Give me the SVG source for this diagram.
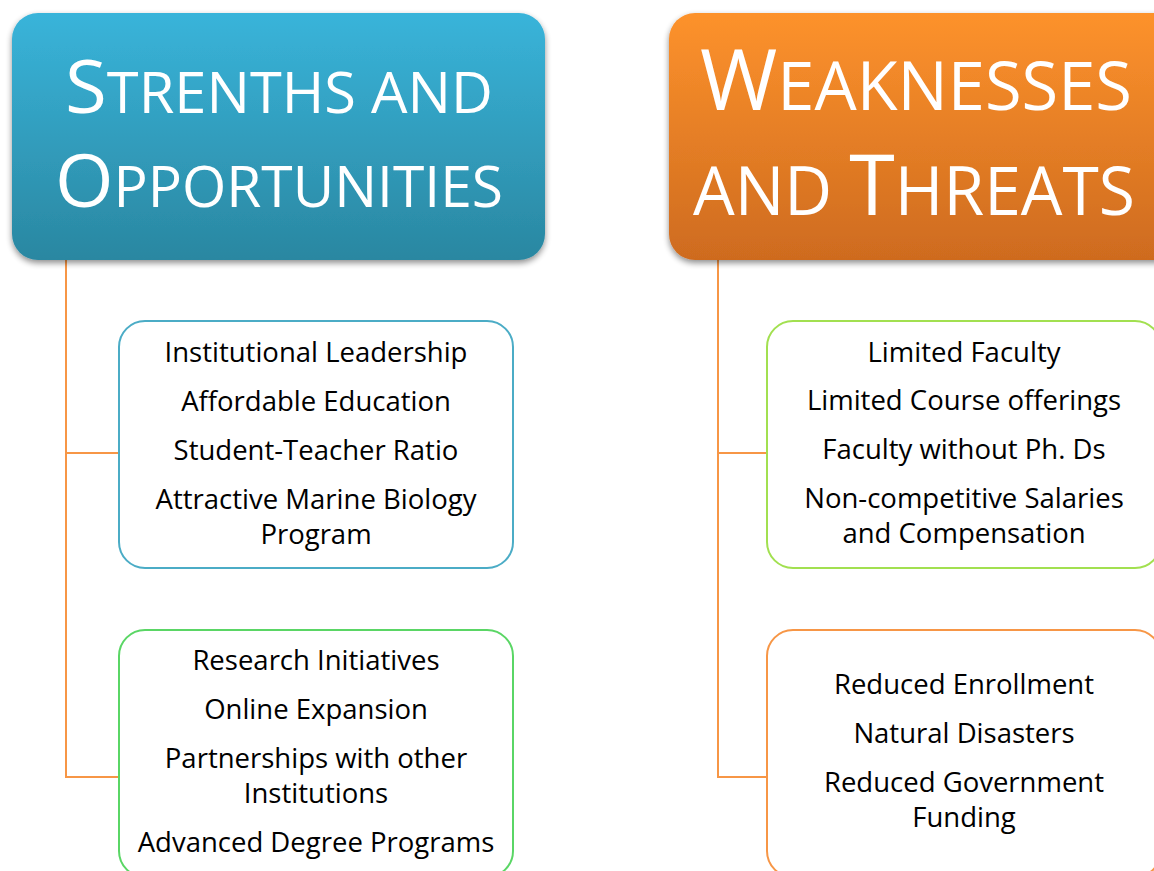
<svg xmlns="http://www.w3.org/2000/svg" width="1154" height="871" viewBox="0 0 1154 871">
<style>
.hdr{font-family:"Open Sans","Liberation Sans",sans-serif;fill:#fff;text-anchor:middle}
.body{font-family:"Open Sans","Liberation Sans",sans-serif;font-size:27.5px;fill:#000;text-anchor:middle}
.box{fill:#fff;stroke-width:2}
.conn{fill:none;stroke:#f79646;stroke-width:2}
</style>
<defs>
<linearGradient id="gBlue" x1="0" y1="0" x2="0" y2="1">
<stop offset="0" stop-color="#39b4da"/><stop offset="1" stop-color="#2a87a1"/>
</linearGradient>
<linearGradient id="gOrange" x1="0" y1="0" x2="0" y2="1">
<stop offset="0" stop-color="#fd922c"/><stop offset="1" stop-color="#ce6b1f"/>
</linearGradient>
<filter id="sh" x="-10%" y="-10%" width="120%" height="130%">
<feGaussianBlur in="SourceAlpha" stdDeviation="3"/>
<feOffset dx="0" dy="3" result="b"/>
<feComponentTransfer><feFuncA type="linear" slope="0.45"/></feComponentTransfer>
<feMerge><feMergeNode/><feMergeNode in="SourceGraphic"/></feMerge>
</filter>
</defs>
<rect width="1154" height="871" fill="#fff"/>
<g id="connectors">
<path class="conn" d="M66 260 V777 H119 M66 453 H119"/>
<path class="conn" d="M718 260 V777 H767 M718 453 H767"/>
</g>
<g id="strengths-header">
<rect x="12" y="13" width="533" height="247" rx="26" fill="url(#gBlue)" filter="url(#sh)"/>
<text class="hdr" x="279" y="113" textLength="428" lengthAdjust="spacingAndGlyphs"><tspan font-size="74">S</tspan><tspan font-size="56">TRENTHS AND</tspan></text>
<text class="hdr" x="279" y="207" textLength="448" lengthAdjust="spacingAndGlyphs"><tspan font-size="74">O</tspan><tspan font-size="56">PPORTUNITIES</tspan></text>
</g>
<g id="weaknesses-header">
<rect x="669" y="13" width="520" height="247" rx="26" fill="url(#gOrange)" filter="url(#sh)"/>
<text class="hdr" x="916" y="110" textLength="432" lengthAdjust="spacingAndGlyphs"><tspan font-size="84">W</tspan><tspan font-size="67">EAKNESSES</tspan></text>
<text class="hdr" x="914" y="215" textLength="442" lengthAdjust="spacingAndGlyphs"><tspan font-size="67">AND </tspan><tspan font-size="84">T</tspan><tspan font-size="67">HREATS</tspan></text>
</g>
<g id="strengths">
<rect class="box" x="119" y="321" width="394" height="247" rx="26" stroke="#4bacc6"/>
<text class="body" x="316" y="362">Institutional Leadership</text>
<text class="body" x="316" y="411">Affordable Education</text>
<text class="body" x="316" y="460">Student-Teacher Ratio</text>
<text class="body" x="316" y="509">Attractive Marine Biology</text>
<text class="body" x="316" y="544">Program</text>
</g>
<g id="opportunities">
<rect class="box" x="119" y="630" width="394" height="247" rx="26" stroke="#5ad665"/>
<text class="body" x="316" y="670">Research Initiatives</text>
<text class="body" x="316" y="719">Online Expansion</text>
<text class="body" x="316" y="768">Partnerships with other</text>
<text class="body" x="316" y="803">Institutions</text>
<text class="body" x="316" y="852">Advanced Degree Programs</text>
</g>
<g id="weaknesses">
<rect class="box" x="767" y="321" width="394" height="247" rx="26" stroke="#a2e050"/>
<text class="body" x="964" y="362">Limited Faculty</text>
<text class="body" x="964" y="410">Limited Course offerings</text>
<text class="body" x="964" y="459">Faculty without Ph. Ds</text>
<text class="body" x="964" y="508">Non-competitive Salaries</text>
<text class="body" x="964" y="543">and Compensation</text>
</g>
<g id="threats">
<rect class="box" x="767" y="630" width="394" height="247" rx="26" stroke="#f79646"/>
<text class="body" x="964" y="694">Reduced Enrollment</text>
<text class="body" x="964" y="743">Natural Disasters</text>
<text class="body" x="964" y="792">Reduced Government</text>
<text class="body" x="964" y="827">Funding</text>
</g>
</svg>
